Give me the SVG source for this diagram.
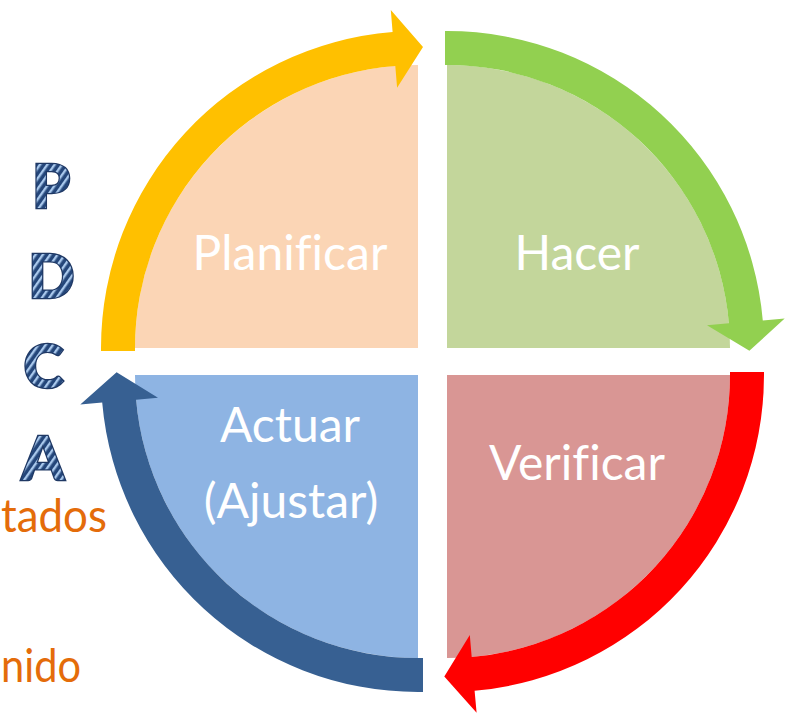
<svg xmlns="http://www.w3.org/2000/svg" width="796" height="716" viewBox="0 0 796 716">
<style>
.lbl{font-family:Lato,"Liberation Sans",sans-serif;font-size:48px;fill:#FFFFFF;text-anchor:middle;font-variant-ligatures:none}
.side{font-family:Lato,"Liberation Sans",sans-serif;font-size:46px;fill:#E46C0A;text-anchor:start}
.let{font-family:Lato,"Liberation Sans",sans-serif;font-weight:900;font-size:61px;fill:url(#hatch);stroke:#1F3864;stroke-width:2.5;text-anchor:middle;paint-order:stroke fill}
</style>
<defs>
<pattern id="hatch" width="6" height="6" patternUnits="userSpaceOnUse" patternTransform="rotate(35)">
<rect width="6" height="6" fill="#24467A"/>
<rect x="0" y="0" width="2.4" height="6" fill="#A9C8EC"/>
</pattern>
</defs>
<rect width="796" height="716" fill="#FFFFFF"/>

<g id="plan">
<path d="M418 348 L135 348 A283 283 0 0 1 418 65 Z" fill="#FBD5B5"/>
<text class="lbl" x="290" y="270">Planificar</text>
</g>
<g id="hacer">
<path d="M447 348 L447 65 A283 283 0 0 1 730 348 Z" fill="#C3D69B"/>
<text class="lbl" x="577" y="270">Hacer</text>
</g>
<g id="verificar">
<path d="M447 375 L730 375 A283 283 0 0 1 447 658 Z" fill="#D99694"/>
<text class="lbl" x="577" y="480">Verificar</text>
</g>
<g id="actuar">
<path d="M418 375 L418 658 A283 283 0 0 1 135 375 Z" fill="#8EB4E3"/>
<text class="lbl" x="290" y="442">Actuar</text>
<text class="lbl" x="291" y="518">(Ajustar)</text>
</g>

<g id="connectors">
<path d="M101 351 L101 348 A317 317 0 0 1 392.6 32 L390.8 10.1 L423 47 L397.1 87.8 L395.3 65.9 A283 283 0 0 0 135 348 L135 351 Z" fill="#FFC000"/>
<path d="M445 31 L447 31 A317 317 0 0 1 762.8 320.4 L784.7 318.4 L749.4 350.8 L707 325.2 L728.9 323.3 A283 283 0 0 0 447 65 L445 65 Z" fill="#92D050"/>
<path d="M764 372 L764 375 A317 317 0 0 1 474.6 690.8 L476.6 712.7 L444.3 676.4 L469.8 635 L471.7 656.9 A283 283 0 0 0 730 375 L730 372 Z" fill="#FF0000"/>
<path d="M423 692 L418 692 A317 317 0 0 1 102.2 402.6 L80.3 404.6 L116.6 372.3 L158 397.8 L136.1 399.7 A283 283 0 0 0 418 658 L423 658 Z" fill="#376092"/>
</g>

<g id="pdca">
<text class="let" x="51" y="208">P</text>
<text class="let" x="51.5" y="298">D</text>
<text class="let" x="43.5" y="388">C</text>
<text class="let" x="43" y="480">A</text>
</g>

<g id="side-text">
<text class="side" x="1" y="532" textLength="106" lengthAdjust="spacingAndGlyphs">tados</text>
<text class="side" x="1" y="682" textLength="80" lengthAdjust="spacingAndGlyphs">nido</text>
</g>
</svg>
